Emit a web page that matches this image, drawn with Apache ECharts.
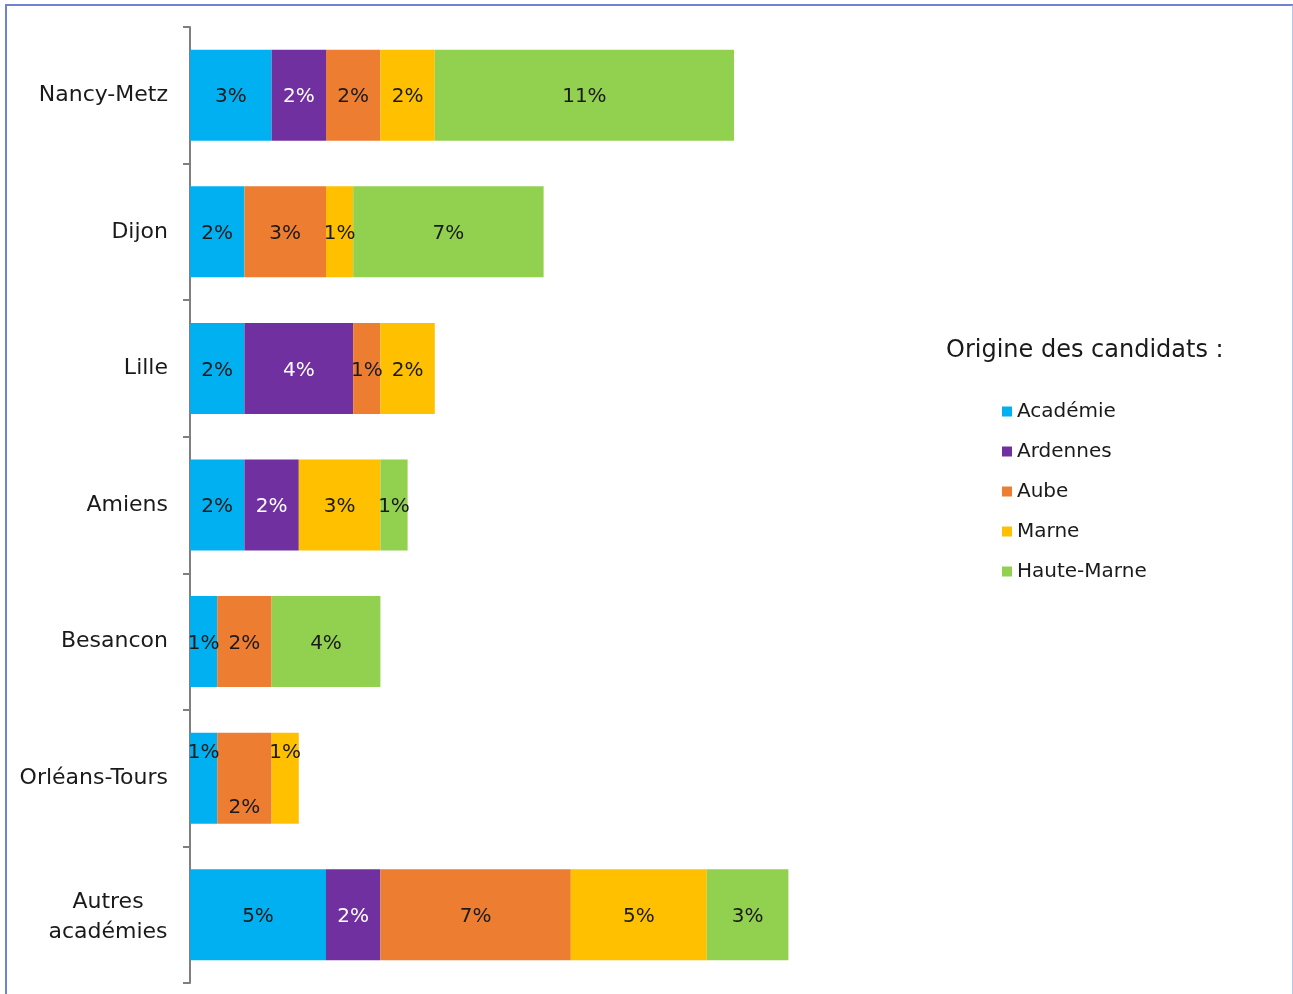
<!DOCTYPE html>
<html>
<head>
<meta charset="utf-8">
<script src="https://cdn.jsdelivr.net/npm/echarts@6/dist/echarts.min.js"></script>
<style>
  html, body { margin: 0; padding: 0; background: #fff; }
  #frame { position: absolute; left: 5px; top: 4px; width: 1285px; height: 1000px;
           border-left: 2px solid #6f83d0; border-top: 2px solid #6f83d0; border-right: 2px solid #b9c4ec; }
  #chart { position: absolute; left: 0; top: 0; width: 1293px; height: 994px; }
</style>
</head>
<body>
<div id="frame"></div>
<div id="chart"></div>
<script>
// Share of candidates (%) by origin, for each academy
const academies = ['Nancy-Metz', 'Dijon', 'Lille', 'Amiens', 'Besancon', 'Orléans-Tours', 'Autres\nacadémies'];
const seriesNames = ['Académie', 'Ardennes', 'Aube', 'Marne', 'Haute-Marne'];
const academie   = [3, 2, 2, 2, 1, 1, 5];
const ardennes   = [2, 0, 4, 2, 0, 0, 2];
const aube       = [2, 3, 1, 0, 2, 2, 7];
const marne      = [2, 1, 2, 3, 0, 1, 5];
const hauteMarne = [11, 7, 0, 1, 4, 0, 3];
const colors = ['#00B0F0', '#7030A0', '#ED7D31', '#FFC000', '#92D050'];
const labelColors = ['#1a1a1a', '#ffffff', '#1a1a1a', '#1a1a1a', '#1a1a1a'];
// Label placement overrides for the narrow Orléans-Tours segments
const labelPos = {
  'Académie': { 5: ['insideTop', 10] },
  'Aube': { 5: ['insideBottom', 6] },
  'Marne': { 5: ['insideTop', 10] }
};

const FONT = '"DejaVu Sans", sans-serif';
const values = [academie, ardennes, aube, marne, hauteMarne];

const series = seriesNames.map((name, i) => ({
  name: name,
  type: 'bar',
  stack: 'total',
  barWidth: 91,
  itemStyle: { color: colors[i] },
  label: {
    show: true,
    position: 'inside',
    offset: [0, 2],
    color: labelColors[i],
    fontFamily: FONT,
    fontSize: 20,
    formatter: p => p.value + '%'
  },
  data: values[i].map((v, j) => {
    if (v === 0) return { value: null };
    const pos = labelPos[name] && labelPos[name][j];
    return pos ? { value: v, label: { position: pos[0], distance: pos[1], offset: [0, 0] } } : { value: v };
  })
}));

const chart = echarts.init(document.getElementById('chart'), null, { renderer: 'canvas' });
chart.setOption({
  backgroundColor: 'transparent',
  animation: false,
  title: {
    text: 'Origine des candidats :',
    left: 941,
    top: 334,
    textStyle: { fontFamily: FONT, fontSize: 24, fontWeight: 'normal', color: '#1a1a1a' }
  },
  legend: {
    orient: 'vertical',
    left: 997,
    top: 396,
    icon: 'rect',
    itemWidth: 10,
    itemHeight: 10,
    itemGap: 19,
    textStyle: { fontFamily: FONT, fontSize: 20, color: '#1a1a1a', lineHeight: 21 },
    data: seriesNames
  },
  grid: { left: 190, top: 27, bottom: 11, width: 680, containLabel: false },
  xAxis: {
    type: 'value',
    min: 0,
    max: 25,
    show: false
  },
  yAxis: {
    type: 'category',
    inverse: true,
    data: academies,
    axisLine: { show: true, lineStyle: { color: '#7f7f7f', width: 2 } },
    axisTick: { show: true, length: 7, lineStyle: { color: '#7f7f7f', width: 2 } },
    axisLabel: {
      margin: 22,
      fontFamily: FONT,
      fontSize: 22,
      color: '#1a1a1a',
      formatter: v => v.indexOf('\n') >= 0
        ? v.split('\n').map(s => '{c|' + s + '}').join('\n')
        : v,
      rich: {
        c: { width: 120, align: 'center', fontFamily: FONT, fontSize: 22, color: '#1a1a1a', lineHeight: 30, padding: [6, 0, 0, 0] }
      }
    },
    splitLine: { show: false }
  },
  series: series
});
</script>
</body>
</html>
